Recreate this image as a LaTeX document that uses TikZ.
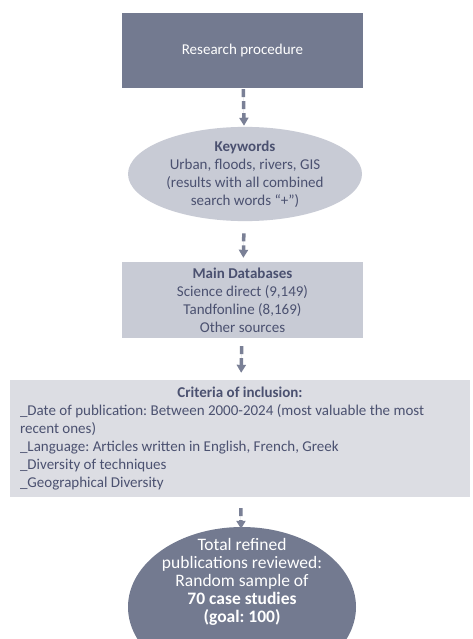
\documentclass[tikz,border=0pt]{standalone}
\usepackage{fontspec}
\setmainfont{Carlito}
\usetikzlibrary{shapes.geometric,arrows.meta}
\definecolor{slate}{HTML}{737A90}
\definecolor{mist}{HTML}{C8CBD5}
\definecolor{pale}{HTML}{DCDDE3}
\definecolor{ink}{HTML}{4B5170}
\definecolor{arrowgray}{HTML}{7A8096}
\frenchspacing
\begin{document}
\begin{tikzpicture}[
   x=1pt,y=-1pt,
   font=\fontsize{15}{18}\selectfont,
   box/.style={rectangle,inner sep=0pt,text=ink,align=center},
   oval/.style={ellipse,inner sep=0pt,text=ink,align=center},
   flow/.style={-{Triangle[width=9pt,length=8pt]},draw=arrowgray,fill=arrowgray,line width=3.5pt,dash pattern=on 8pt off 4pt}]
\path[use as bounding box,clip] (0,0) rectangle (472,639);
\fill[white] (0,0) rectangle (472,639);
% boxes and ovals, top to bottom
\node[box,fill=slate,text=white,minimum width=241pt,minimum height=75pt] (procedure) at (242.5,50.5) {Research procedure};
\node[oval,fill=mist,minimum width=234pt,minimum height=93pt] (keywords) at (245,174) {\textbf{Keywords}\\Urban, floods, rivers, GIS\\(results with all combined\\search words “+”)};
\node[box,fill=mist,minimum width=241pt,minimum height=76pt] (databases) at (242.5,300) {\textbf{Main Databases}\\Science direct (9,149)\\Tandfonline (8,169)\\Other sources};
\node[box,fill=pale,minimum width=460pt,minimum height=117pt] (criteria) at (240,438.5) {};
\node[text=ink,text width=440pt,align=flush left,inner sep=0pt] (criteriatext) at (criteria.center) {\centerline{\bfseries Criteria of inclusion:}\par
\_Date of publication: Between 2000-2024 (most valuable the most\\recent ones)\\
\_Language: Articles written in English, French, Greek\\
\_Diversity of techniques\\
\_Geographical Diversity};
\node[oval,fill=slate,minimum width=228pt,minimum height=160pt] (sample) at (242,607) {};
\node[text=white,align=center,inner sep=0pt,font=\fontsize{17.5}{18}\selectfont] (sampletext) at (242,582) {Total refined\\publications reviewed:\\Random sample of\\\textbf{70 case studies}\\\textbf{(goal: 100)}};
% dashed connectors
\draw[flow,shorten <=1pt,shorten >=1pt] (procedure) -- (keywords);
\draw[flow,shorten <=12pt,shorten >=4pt] (keywords) -- (databases);
\draw[flow,shorten <=8pt,shorten >=7pt] (databases) -- (criteria);
\draw[flow,shorten <=11pt,shorten >=-2pt] (criteria) -- (sample);
\end{tikzpicture}
\end{document}
